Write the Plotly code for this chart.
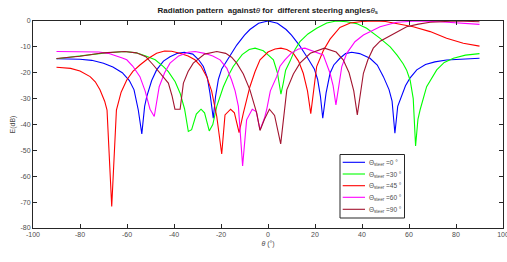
import plotly.graph_objects as go

# steer 0 (blue)
theta_b = [-90, -80, -75, -70, -66, -62, -59, -57, -55.2, -53.7, -52.5, -51.6, -49.5, -47.4, -44.5, -41.7,
           -38.5, -35.6, -32, -29.5, -27.5, -25.8, -24.7, -23.3, -22.3, -21.1, -19.7, -17, -13.3, -10, -7.7, -4,
           0, 4, 7.7, 10, 13.3, 17, 19.7, 21.1, 22.3, 23.3, 24.7, 26.4, 28, 30.6, 33, 35.6, 39, 43.4, 46.5,
           49.1, 51.5, 52.8, 54, 55.2, 56.9, 58.5, 60.4, 63.3, 67, 71, 76, 82, 90]
db_b = [-14.6, -14.8, -15.2, -16.3, -17.8, -20, -23, -26.6, -34.4, -43.6, -33, -29.2, -23, -18.9, -15.5, -13.8,
        -12.5, -12.1, -12.8, -15, -17.6, -22, -27.9, -37.6, -29, -22.5, -18.5, -14.5, -9.3, -5.5, -3.3, -0.9,
        0, -0.9, -3.3, -5.5, -9.3, -14.5, -18.5, -22.5, -29, -37.6, -27.9, -20.2, -17, -14.4, -12.6, -12.1, -12.6,
        -14.4, -17, -21.5, -26.5, -31, -43.4, -33, -29.2, -25, -22.1, -18.9, -16.8, -15.8, -15.1, -14.7, -14.4]

# steer 30 (green)
theta_g = [-90, -80, -70, -61, -56, -52, -48, -44.5, -42.4, -39.5, -37.4, -35.5, -33.9, -32.5, -30.5, -28.5,
           -27, -25, -23.5, -21.8, -19, -16.8, -14.8, -11, -8, -5.5, -2, 0.5, 2.3, 4, 5.5, 6.5, 7.5, 9.4,
           11.5, 13.6, 17, 20.7, 25, 29, 33.5, 37.7, 42, 47.7, 52, 55, 57.5, 59, 60.5, 61.8, 62.8, 63.8,
           64.7, 67.5, 71.8, 75, 78.9, 84, 90]
db_g = [-14.6, -13.6, -12.4, -11.8, -12.3, -13.5, -15, -17.6, -19.6, -23.5, -27.9, -34, -42.7, -42, -36, -34.1,
        -35.5, -42.5, -40, -33, -25.4, -21, -17.6, -13, -11, -10.5, -11.5, -13.5, -15, -20, -28.3, -24, -19, -15.5,
        -11, -8, -5, -2.8, -0.8, 0, -0.3, -1, -2.8, -6.7, -10, -13.3, -16.5, -19, -23, -30, -48.3, -38,
        -34.4, -25.4, -18.9, -16, -14.4, -13.2, -12.6]

# steer 45 (red)
theta_r = [-90, -84, -80, -75.7, -73.5, -71.5, -69.5, -68.5, -66.5, -64.5, -62.5, -60.1, -57.5, -54.5, -51,
           -47.4, -44, -41, -37.5, -34, -31.1, -28.5, -26.1, -24, -21.8, -19.7, -18.3, -15.9, -14.3, -12.3,
           -10.5, -9, -7.7, -5.5, -3.4, 0, 3, 5.5, 8, 10.8, 13, 15, 16.8, 18.2, 19.5, 20.7, 23.5, 26.4, 30.6,
           35, 40, 45, 50, 54.8, 61.8, 69, 76, 83.1, 90]
db_r = [-17.9, -18.3, -19.3, -21.5, -23.5, -26.6, -31, -34.4, -71.7, -34.4, -27.5, -22.8, -19.5, -17, -14.5,
        -12.5, -11.6, -11.7, -12.5, -13.5, -15, -17.5, -21.5, -27, -36.9, -51.4, -36.3, -34.1, -35.5, -43.1,
        -35.6, -30, -25.4, -19.5, -15, -12, -10.8, -10.5, -11, -12.5, -15.5, -20.2, -27, -35.8, -25, -17.6,
        -11.5, -7, -2.5, -0.8, -0.2, 0, -0.2, -0.9, -2.2, -4.1, -6.7, -8.6, -9.7]

# steer 60 (magenta)
theta_m = [-90, -80, -72, -68, -65, -62, -60.1, -57.5, -54.5, -52.3, -50.2, -48.4, -46.3, -44, -41.7, -38, -34,
           -31, -27, -23.5, -20.4, -17.5, -15.5, -14, -12.6, -10.8, -9.1, -6.7, -5, -3.4, -1.5, -0.6, 1, 3.7,
           5.1, 7.2, 10, 13, 15.7, 19, 23.5, 26.4, 27.7, 28.9, 30, 31.4, 33.5, 34.9, 37, 40.6, 47.7, 54.8,
           63, 73.2, 80, 90]
db_m = [-11.8, -11.8, -12, -12.5, -13.3, -14.3, -15, -17.5, -21.5, -27, -34.1, -36.9, -25.4, -20, -16.3, -13.5,
        -12.1, -11.8, -12.5, -13.5, -15, -18.3, -22.8, -27, -33, -56, -38.2, -34.1, -35, -42.1, -37.5, -34.4,
        -27, -21.5, -17.5, -15, -12.3, -10.8, -10.5, -11.5, -13.1, -20.2, -25, -32.4, -25, -17.6, -12.5, -10.5,
        -8, -5.4, -2.2, -0.5, 0, -0.3, -0.7, -1.3]

# steer 90 (dark red)
theta_k = [-90, -80, -70, -61, -56, -52, -48.8, -45.5, -42.4, -40.8, -39.6, -37.4, -36, -34, -31.8, -27, -21.8,
           -18, -15.5, -13.3, -10.5, -7.7, -4.8, -3.4, -1.5, 0.6, 2.8, 5.4, 7.2, 8, 10.8, 13.6, 18, 24, 29, 32,
           34.5, 36.5, 38, 39.5, 40.6, 42.5, 44.8, 47.7, 51.2, 55, 59, 64, 69, 80, 90]
db_k = [-14.5, -13.6, -12.3, -11.8, -12.3, -13.8, -17, -20.5, -24, -29, -34.1, -34.1, -24, -19.5, -16.3, -12.8,
        -11.8, -12.5, -14, -16.3, -20.5, -26.6, -35.6, -42.3, -38, -34.1, -36.5, -47.5, -31.8, -26.6, -20.5, -16.3,
        -12.5, -10.5, -12, -15, -20, -27, -36.3, -26, -20.2, -15, -10.5, -7.8, -6, -4, -2.2, -1.2, -0.5, 0, -0.3]

steer_labels = ["0", "30", "45", "60", "90"]
colors = ["#0000ff", "#00ff00", "#ff0000", "#ff00ff", "#a2142f"]
thetas = [theta_b, theta_g, theta_r, theta_m, theta_k]
dbs = [db_b, db_g, db_r, db_m, db_k]

x_ticks = [-100, -80, -60, -40, -20, 0, 20, 40, 60, 80, 100]
y_ticks = [0, -10, -20, -30, -40, -50, -60, -70, -80]

W, H = 507, 262
ML, MR, MT, MB = 33, 4, 21, 34
PW, PH = W - ML - MR, H - MT - MB

def px(x):  # page pixel x -> paper
    return (x - ML) / PW

def py(y):  # page pixel y -> paper
    return (H - MB - y) / PH

fig = go.Figure()
for th, db, lab, col in zip(thetas, dbs, steer_labels, colors):
    fig.add_trace(go.Scatter(
        x=th, y=db, mode="lines",
        line=dict(color=col, width=1.1),
        name="\u0398<sub>steer</sub> =" + lab + " \u00b0",
        showlegend=False,
    ))

# legend drawn as box + sample lines + text
shapes = [dict(type="rect", xref="paper", yref="paper",
               x0=px(340), x1=px(404.5), y0=py(218), y1=py(154.5),
               line=dict(color="#262626", width=1), fillcolor="white", layer="above")]
annots = []
row_y = [162.3, 174, 185.7, 197.3, 209.3]
for ry, lab, col in zip(row_y, steer_labels, colors):
    shapes.append(dict(type="line", xref="paper", yref="paper",
                       x0=px(342.7), x1=px(365), y0=py(ry), y1=py(ry),
                       line=dict(color=col, width=1.1), layer="above"))
    annots.append(dict(xref="paper", yref="paper", x=px(366.5), y=py(ry + 0.5),
                       xanchor="left", yanchor="middle", showarrow=False,
                       text="\u0398<sub>steer</sub> =" + lab + " \u00b0",
                       font=dict(size=6.5, color="#4d4d4d")))

axis_common = dict(
    showgrid=False, zeroline=False, showline=True, linecolor="#262626", linewidth=1,
    mirror="ticks", ticks="inside", ticklen=4, tickcolor="#262626", automargin=False,
    ticklabeloverflow="allow",
    tickfont=dict(family="Liberation Sans, Arial, sans-serif", size=7, color="#4d4d4d"),
)

fig.update_layout(
    width=W, height=H,
    margin=dict(l=ML, r=MR, t=MT, b=MB, autoexpand=False),
    paper_bgcolor="white", plot_bgcolor="white",
    font=dict(family="Liberation Sans, Arial, sans-serif", size=7, color="#262626"),
    title=dict(
        text="<b>Radiation pattern  against</b><i>\u03b8</i><b> for  different steering angles</b><i>\u03b8</i><sub><b>s</b></sub>",
        x=0.528, xanchor="center", y=0.962, yanchor="middle",
        font=dict(size=8, color="#1a1a1a"),
    ),
    xaxis=dict(range=[-100, 100], tickvals=x_ticks, ticktext=[str(v) for v in x_ticks],
               title=dict(text="<i>\u03b8</i> (\u00b0)", standoff=3, font=dict(size=7, color="#4d4d4d")),
               **axis_common),
    yaxis=dict(range=[-80, 0], tickvals=y_ticks, ticktext=[str(v) for v in y_ticks],
               title=dict(text="E(dB)", standoff=4, font=dict(size=7, color="#4d4d4d")),
               **axis_common),
    showlegend=False,
    shapes=shapes,
    annotations=annots,
)

fig.write_html("out.html", config={"displayModeBar": False, "staticPlot": True},
               post_script="document.body.style.margin='0';document.body.style.overflow='hidden';")
